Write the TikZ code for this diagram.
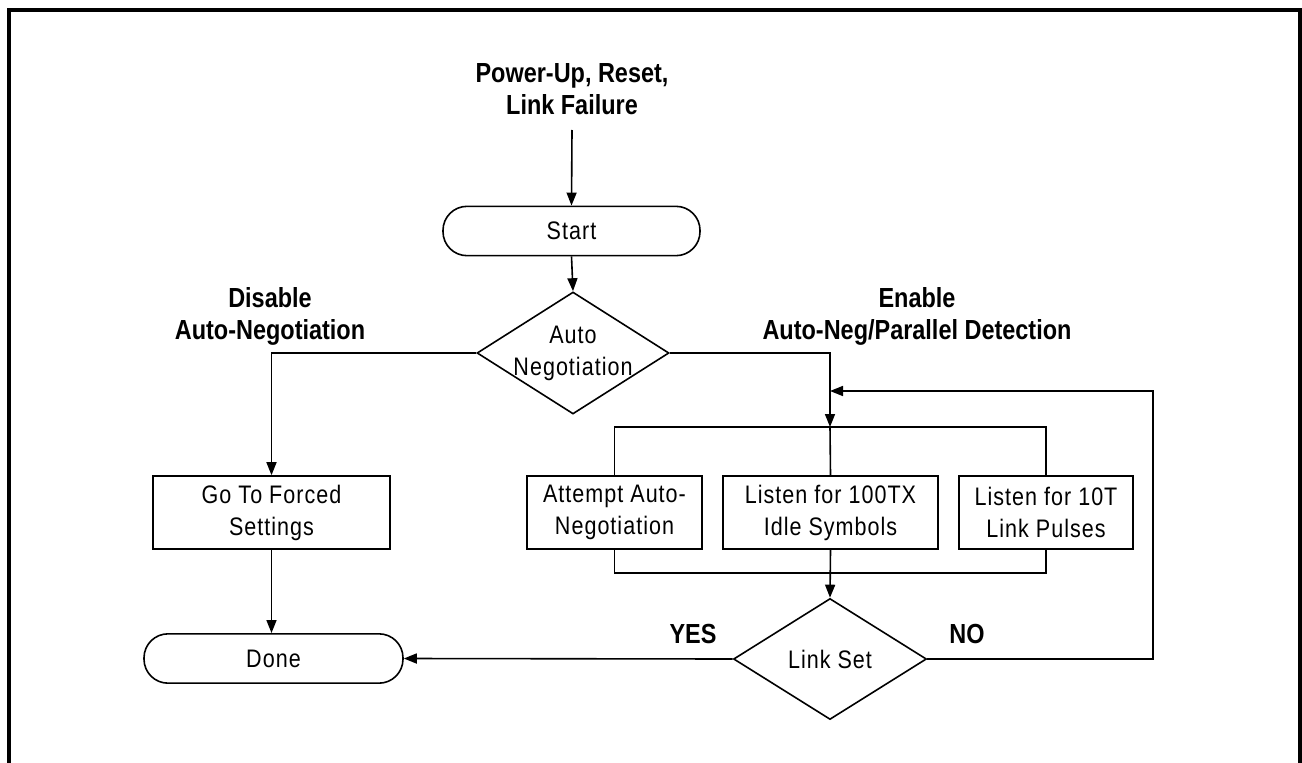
\documentclass[tikz,border=0pt]{standalone}
\usepackage{fontspec}
\setmainfont{Liberation Sans}[FakeStretch=0.85]
\newfontfamily\boxfont{Liberation Sans}[FakeStretch=0.85,LetterSpace=4]
\usetikzlibrary{shapes.geometric,arrows.meta}
\begin{document}
\begin{tikzpicture}[x=0.75pt,y=-0.75pt,
  line width=1.2pt,
  every node/.style={font=\boxfont\fontsize{19}{24}\selectfont, align=center, inner sep=0pt},
  term/.style={draw, rectangle, rounded corners=18pt, minimum height=37pt},
  proc/.style={draw, rectangle, minimum height=54.75pt},
  dec/.style={draw, diamond},
  lbl/.style={font=\bfseries\fontsize{20.7}{24}\selectfont},
  arr/.style={-{Triangle[length=9.75pt,width=7.5pt]}}
]
\useasboundingbox (0,0) rectangle (1302,763);
% frame
\draw[line width=2.6pt] (9,775) -- (9,10) -- (1300,10) -- (1300,775);

% nodes
\node[lbl] (power) at (572,89) {Power-Up, Reset,\\Link Failure};
\coordinate (pwr) at (572,130);
\node[term, minimum width=192.75pt] (start) at (571.5,231) {Start};
\node[dec, minimum width=144pt, minimum height=91.5pt,
      label={[align=center]center:Auto\\Negotiation}] (autoneg) at (573,353) {};
\node[lbl] (disable) at (270,316) {Disable\\Auto-Negotiation};
\node[lbl] (enable) at (917,316) {Enable\\Auto-Neg/Parallel Detection};
\node[proc, minimum width=177.75pt] (forced) at (271.5,512.5) {Go To Forced\\Settings};
\node[term, minimum width=194.25pt] (done) at (273.5,658.5) {Done};
\node[proc, minimum width=131.25pt] (attempt) at (614.5,512.5) {Attempt Auto-\\Negotiation};
\node[proc, minimum width=161.25pt] (listen100) at (830.5,512.5) {Listen for 100TX\\Idle Symbols};
\node[proc, minimum width=130.5pt] (listen10) at (1046,512.5) {Listen for 10T\\Link Pulses};
\node[dec, minimum width=144.75pt, minimum height=90.75pt,
      label={center:Link Set}] (linkset) at (830,659) {};
\node[lbl] (yes) at (693,634) {YES};
\node[lbl] (no) at (967,634) {NO};

\coordinate (busT) at (830,427);
\coordinate (busB) at (830,573);
\coordinate (fbR) at (1153,391);
\coordinate (fbL) at (830,391);

% connectors
\draw[arr] (pwr) -- (start.north);
\draw[arr] (start.south) -- (autoneg.north);
\draw[arr] (autoneg.west) -| (forced.north);
\draw[arr] (forced.south) -- (forced.south |- done.north);
\draw[arr] (autoneg.east) -| (busT);
\draw (busT) -- (listen100.north);
\draw (attempt.north) |- (busT) -| (listen10.north);
\draw (attempt.south) |- (busB) -| (listen10.south);
\draw[arr] (listen100.south) -- (linkset.north);
\draw[arr] (linkset.west) -- (done.east);
\draw[arr] (linkset.east) -| (fbR) -- (fbL);
\end{tikzpicture}
\end{document}
